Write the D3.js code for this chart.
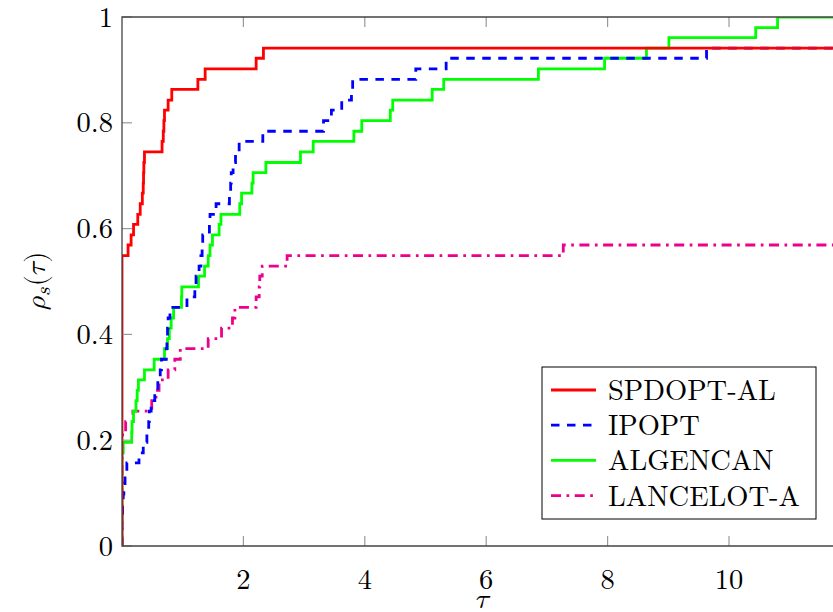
<!DOCTYPE html>
<html>
<head>
<meta charset="utf-8">
<script src="https://cdn.jsdelivr.net/npm/d3@7"></script>
<style>
  body { margin: 0; background: #fff; }
</style>
</head>
<body>
<div id="chart"></div>
<script>
// performance profile values (tau, rho)
var names = ["SPDOPT-AL", "IPOPT", "ALGENCAN", "LANCELOT-A"];
var colors = ["#ff0000", "#0000ff", "#00ff00", "#ec008c"];
var dashes = [null, "8.5,7.5", null, "10,5.5,2.7,5.5"];

var redTau = [0, 0, 0.10, 0.15, 0.19, 0.26, 0.30, 0.335, 0.35, 0.355, 0.36, 0.37, 0.66, 0.68, 0.69, 0.70, 0.76, 0.82, 1.25, 1.37, 2.21, 2.33, 11.8];
var redRho = [0, 0.549, 0.569, 0.588, 0.608, 0.627, 0.647, 0.667, 0.686, 0.706, 0.725, 0.745, 0.765, 0.784, 0.804, 0.824, 0.843, 0.863, 0.882, 0.902, 0.922, 0.941, 0.941];

var blueTau = [0, 0, 0.01, 0.02, 0.03, 0.05, 0.08, 0.28, 0.35, 0.41, 0.44, 0.45, 0.48, 0.54, 0.59, 0.63, 0.65, 0.73, 0.74, 0.75, 0.76, 0.79, 1.07, 1.20, 1.22, 1.27, 1.30, 1.32, 1.33, 1.44, 1.45, 1.55, 1.77, 1.79, 1.80, 1.83, 1.87, 1.93, 2.32, 3.32, 3.45, 3.62, 3.78, 3.80, 4.84, 5.34, 9.63, 11.8];
var blueRho = [0, 0.059, 0.078, 0.098, 0.118, 0.137, 0.157, 0.176, 0.196, 0.216, 0.235, 0.255, 0.275, 0.294, 0.314, 0.333, 0.353, 0.373, 0.392, 0.412, 0.431, 0.451, 0.471, 0.490, 0.510, 0.529, 0.549, 0.569, 0.588, 0.608, 0.627, 0.647, 0.667, 0.686, 0.706, 0.725, 0.745, 0.765, 0.784, 0.804, 0.824, 0.843, 0.863, 0.882, 0.902, 0.922, 0.941, 0.941];

var greenTau = [0, 0, 0.02, 0.16, 0.165, 0.19, 0.23, 0.25, 0.27, 0.37, 0.53, 0.70, 0.75, 0.78, 0.81, 0.85, 0.98, 0.985, 1.26, 1.36, 1.42, 1.45, 1.49, 1.60, 1.63, 1.94, 1.97, 2.14, 2.16, 2.37, 2.94, 3.15, 3.82, 3.95, 4.42, 4.46, 5.11, 5.30, 6.86, 7.95, 8.64, 9.01, 10.44, 10.80, 11.8];
var greenRho = [0, 0.176, 0.196, 0.216, 0.235, 0.255, 0.275, 0.294, 0.314, 0.333, 0.353, 0.373, 0.392, 0.412, 0.431, 0.451, 0.471, 0.490, 0.510, 0.529, 0.549, 0.569, 0.588, 0.608, 0.627, 0.647, 0.667, 0.686, 0.706, 0.725, 0.745, 0.765, 0.784, 0.804, 0.824, 0.843, 0.863, 0.882, 0.902, 0.922, 0.941, 0.961, 0.980, 1.0, 1.0];

var pinkTau = [0, 0, 0.01, 0.06, 0.18, 0.49, 0.56, 0.61, 0.76, 0.87, 0.96, 1.42, 1.64, 1.82, 1.86, 2.21, 2.26, 2.27, 2.31, 2.72, 7.27, 11.8];
var pinkRho = [0, 0.196, 0.216, 0.235, 0.255, 0.275, 0.294, 0.314, 0.333, 0.353, 0.373, 0.392, 0.412, 0.431, 0.451, 0.471, 0.490, 0.510, 0.529, 0.549, 0.569, 0.569];

var xTicks = [2, 4, 6, 8, 10];
var yTicks = [0, 0.2, 0.4, 0.6, 0.8, 1];
var xMax = 11.8;

var roman = "Latin Modern Roman, Liberation Serif, serif";
var mathFont = "Latin Modern Math, Latin Modern Roman, Liberation Serif, serif";
var width = 833, height = 612;
var marginLeft = 122, marginTop = 17, plotBottom = 546;
var plotRight = marginLeft + xMax * 60.7;

var svg = d3.select("#chart").append("svg")
    .attr("width", width)
    .attr("height", height)
    .attr("viewBox", [0, 0, width, height]);

var x = d3.scaleLinear().domain([0, xMax]).range([marginLeft, plotRight]);
var y = d3.scaleLinear().domain([0, 1]).range([plotBottom, marginTop]);

svg.append("clipPath").attr("id", "clip")
  .append("rect")
    .attr("x", marginLeft).attr("y", marginTop)
    .attr("width", plotRight - marginLeft).attr("height", plotBottom - marginTop);

var series = [
    {tau: redTau, rho: redRho},
    {tau: blueTau, rho: blueRho},
    {tau: greenTau, rho: greenRho},
    {tau: pinkTau, rho: pinkRho}
];

var line = d3.line()
    .x(d => x(d[0]))
    .y(d => y(d[1]))
    .curve(d3.curveStepAfter);

// draw pink first so red ends on top
var order = [3, 2, 1, 0];
var g = svg.append("g").attr("clip-path", "url(#clip)");
order.forEach(function(i) {
    var pts = series[i].tau.map((t, k) => [t, series[i].rho[k]]);
    g.append("path")
        .attr("d", line(pts))
        .attr("fill", "none")
        .attr("stroke", colors[i])
        .attr("stroke-width", 2.8)
        .attr("stroke-dasharray", dashes[i]);
});

// ticks (pointing inward)
var tickLen = 10;
var ticks = svg.append("g").attr("stroke", "#999").attr("stroke-width", 1.2);
xTicks.forEach(function(t) {
    ticks.append("line").attr("x1", x(t)).attr("x2", x(t)).attr("y1", plotBottom).attr("y2", plotBottom - tickLen);
    ticks.append("line").attr("x1", x(t)).attr("x2", x(t)).attr("y1", marginTop).attr("y2", marginTop + tickLen);
});
yTicks.forEach(function(t) {
    ticks.append("line").attr("x1", marginLeft).attr("x2", marginLeft + tickLen).attr("y1", y(t)).attr("y2", y(t));
});

// frame
svg.append("path")
    .attr("d", "M" + plotRight + "," + marginTop + "H" + marginLeft + "V" + plotBottom + "H" + plotRight)
    .attr("fill", "none")
    .attr("stroke", "#444")
    .attr("stroke-width", 1.3);

// tick labels
svg.append("g").selectAll("text").data(xTicks).join("text")
    .attr("x", d => x(d))
    .attr("y", plotBottom + 43)
    .attr("text-anchor", "middle")
    .attr("font-family", roman)
    .attr("font-size", 28.5)
    .text(d => d);

svg.append("g").selectAll("text").data(yTicks).join("text")
    .attr("x", marginLeft - 9)
    .attr("y", d => y(d))
    .attr("dy", "0.34em")
    .attr("text-anchor", "end")
    .attr("font-family", roman)
    .attr("font-size", 28.5)
    .text(d => d);

// axis labels
svg.append("text")
    .attr("x", 482)
    .attr("y", 608)
    .attr("text-anchor", "middle")
    .attr("font-family", mathFont)
    .attr("font-size", 28.5)
    .text("\u{1D70F}");

var yl = svg.append("text")
    .attr("transform", "translate(45,281) rotate(-90)")
    .attr("text-anchor", "middle")
    .attr("font-family", mathFont)
    .attr("font-size", 28.5);
yl.append("tspan").text("\u{1D70C}");
yl.append("tspan").attr("font-size", 20).attr("dy", 5).text("\u{1D460}");
yl.append("tspan").attr("dy", -5).text("(\u{1D70F})");

// legend
var legend = svg.append("g");
legend.append("rect")
    .attr("x", 542).attr("y", 367)
    .attr("width", 274).attr("height", 152)
    .attr("fill", "#fff")
    .attr("stroke", "#000")
    .attr("stroke-width", 1);
names.forEach(function(name, i) {
    var cy = 390 + i * 35.2;
    legend.append("line")
        .attr("x1", 551).attr("x2", 596)
        .attr("y1", cy).attr("y2", cy)
        .attr("stroke", colors[i])
        .attr("stroke-width", 2.8)
        .attr("stroke-dasharray", dashes[i]);
    legend.append("text")
        .attr("x", 608)
        .attr("y", cy + 10)
        .attr("font-family", roman)
        .attr("font-size", 28.5)
        .text(name);
});
</script>
</body>
</html>
